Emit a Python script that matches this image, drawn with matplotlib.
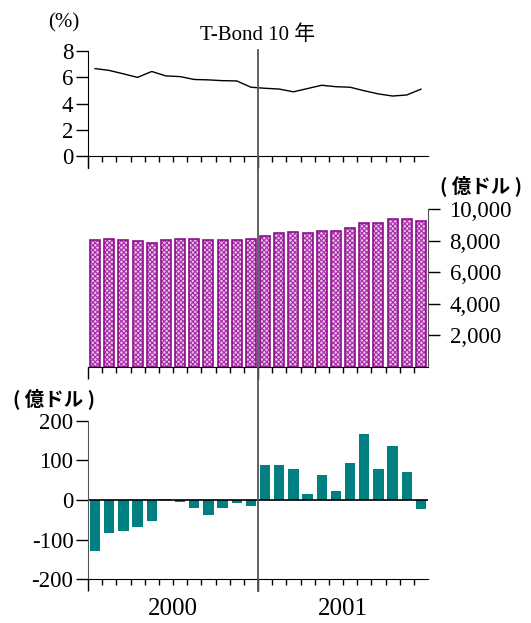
import numpy as np
import matplotlib
matplotlib.use("Agg")
import matplotlib.pyplot as plt
from matplotlib.lines import Line2D
import matplotlib.transforms as mtransforms

plt.rcParams['font.family'] = ['Liberation Serif', 'Noto Sans CJK JP']
plt.rcParams['axes.unicode_minus'] = False
plt.rcParams['hatch.linewidth'] = 0.8

# 2000/01 .. 2001/12
years = ['2000', '2001']
bond_yield = [6.66, 6.52, 6.26, 5.99, 6.44, 6.10, 6.05, 5.83, 5.80, 5.74, 5.72, 5.24,
              5.16, 5.10, 4.89, 5.14, 5.39, 5.28, 5.24, 4.97, 4.73, 4.57, 4.65, 5.09]
level = [8020, 8100, 8060, 7960, 7830, 8020, 8080, 8100, 8060, 8060, 8060, 8120,
         8300, 8470, 8550, 8480, 8610, 8610, 8820, 9110, 9110, 9350, 9350, 9240]
change = [-128, -84, -78, -69, -53, 2, -4, -19, -38, -21, -8, -16,
          88, 88, 78, 14, 63, 22, 93, 167, 77, 136, 70, -22]

n = len(bond_yield)
x = np.arange(n) + 0.5
W, H = 531, 623

fig = plt.figure(figsize=(W / 100, H / 100), dpi=100)

def axes_px(x0, y0, x1, y1):
    return fig.add_axes([x0 / W, 1 - y1 / H, (x1 - x0) / W, (y1 - y0) / H])

TICK_FS = 16.5
ax1 = axes_px(88, 51, 428, 156)
ax2 = axes_px(88, 209, 428, 367)
ax3 = axes_px(88, 420.7, 428, 579.3)

def month_ticks(ax):
    ax.set_xlim(0, n)
    ax.set_xticks([0, 12])
    ax.set_xticklabels([])
    ax.set_xticks(np.arange(1, n), minor=True)
    ax.tick_params(axis='x', which='major', direction='out', length=8.5, width=1)
    ax.tick_params(axis='x', which='minor', direction='out', length=4, width=1)

# top: 10-year T-Bond yield
ax1.plot(x, bond_yield, color='black', lw=1)
ax1.set_ylim(0, 8)
ax1.set_yticks([0, 2, 4, 6, 8])
month_ticks(ax1)
ax1.tick_params(axis='y', direction='out', length=8.5, width=1, pad=2, labelsize=TICK_FS)
for s in ['top', 'right']:
    ax1.spines[s].set_visible(False)
ax1.spines['left'].set_bounds(-0.92, 8)
ax1.text(-0.07, 1.27, '(%)', transform=ax1.transAxes, fontsize=15, ha='center', va='center')
ax1.set_title('T-Bond 10 年', fontsize=15, pad=8)

# middle: level bars (hatched fill, then dark outline)
ax2.bar(x, level, width=0.7, facecolor='#eec4ee', edgecolor='#a52ea5', hatch='xxxxxxx', lw=0)
ax2.bar(x, level, width=0.7, facecolor='none', edgecolor='#8b0f8b', lw=1.2)
ax2.set_ylim(0, 10000)
month_ticks(ax2)
ax2.yaxis.tick_right()
ax2.set_yticks([2000, 4000, 6000, 8000, 10000])
ax2.set_yticklabels(['2,000', '4,000', '6,000', '8,000', '10,000'])
ax2.tick_params(axis='y', direction='out', length=8.5, width=1, pad=7, labelsize=TICK_FS)
for s in ['top', 'left']:
    ax2.spines[s].set_visible(False)
ax2.spines['right'].set_color('#555555')
ax2.text(1.155, 1.147, '( 億ドル )', transform=ax2.transAxes, fontsize=14,
         family=['Noto Sans CJK JP'], weight='bold', ha='center', va='center')

# bottom: change bars
ax3.bar(x, change, width=0.74, color='#008080')
ax3.axhline(0, color='black', lw=1.2)
ax3.set_ylim(-200, 200)
ax3.set_yticks([-200, -100, 0, 100, 200])
month_ticks(ax3)
ax3.tick_params(axis='y', direction='out', length=8.5, width=1, pad=2, labelsize=TICK_FS)
for s in ['top', 'right']:
    ax3.spines[s].set_visible(False)
ax3.spines['left'].set_color('#555555')
ax3.text(-0.1, 1.14, '( 億ドル )', transform=ax3.transAxes, fontsize=14,
         family=['Noto Sans CJK JP'], weight='bold', ha='center', va='center')
for i, yr in enumerate(years):
    ax3.text(6 + 12 * i, -0.19, yr, transform=ax3.get_xaxis_transform(),
             fontsize=18, ha='center', va='center')

# year divider across all panels
tr = mtransforms.blended_transform_factory(ax1.transData, fig.transFigure)
fig.add_artist(Line2D([12, 12], [1 - 50 / H, 1 - 591 / H], transform=tr,
                      color='#555555', lw=1.3))

fig.savefig('out.png', dpi=100)
plt.close(fig)
